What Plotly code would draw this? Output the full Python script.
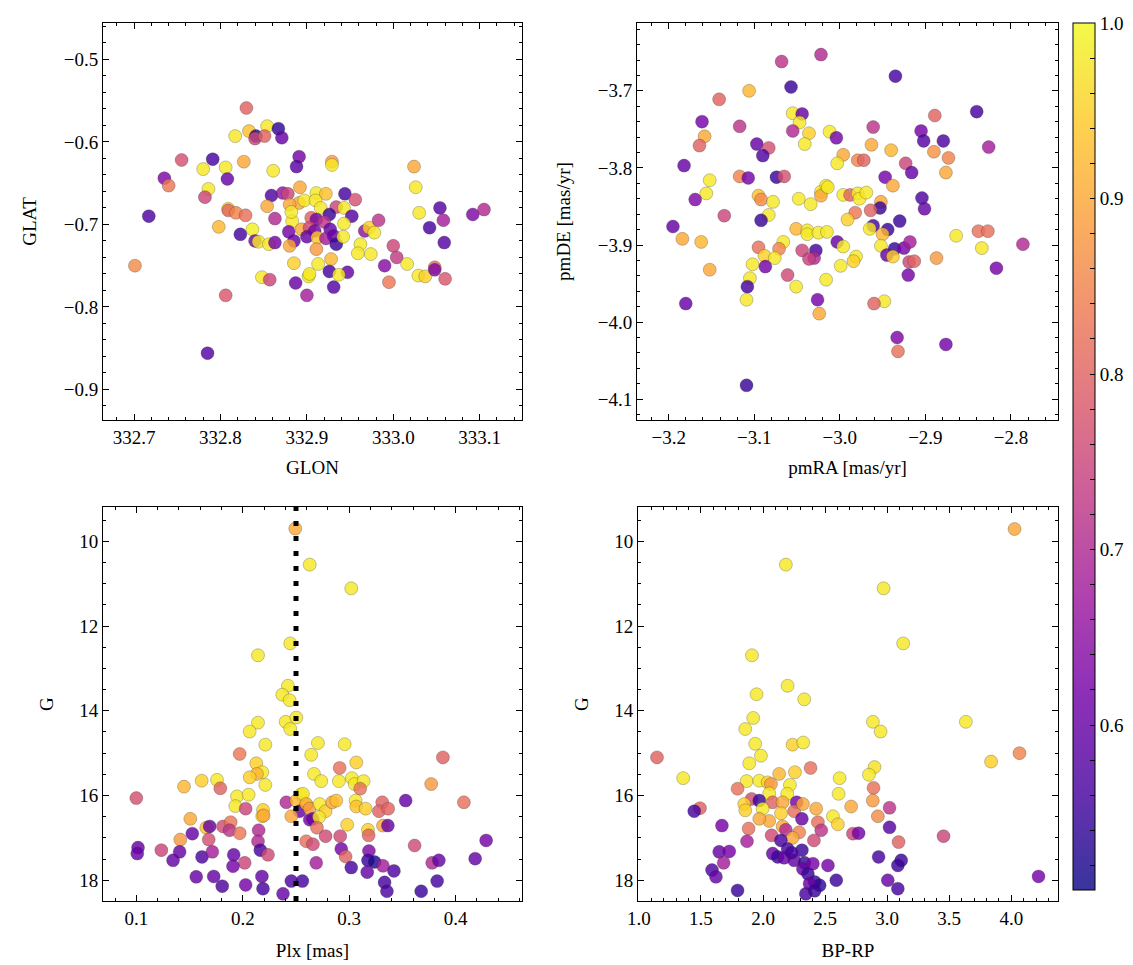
import plotly.graph_objects as go
import plotly.colors as pc

# ---------------- data ----------------
# Panel 1: sky positions
glon = [332.830, 332.817, 332.833, 332.854, 332.841, 332.840, 332.851, 332.867, 332.871, 332.755,
        332.791, 332.827, 332.780, 332.806, 332.861, 332.891, 332.888, 332.735, 332.740, 332.808,
        332.786, 332.782, 332.717, 332.809, 332.809, 332.818, 332.829, 332.798, 332.837, 332.823,
        332.840, 332.844, 332.856, 332.863, 332.859, 332.872, 332.878, 332.854, 332.863, 332.883,
        332.892, 332.879, 332.885, 332.880, 332.885, 332.701, 332.848, 332.857, 332.887, 332.900,
        332.806, 332.785, 332.902, 332.891, 332.897, 332.929, 332.929, 332.911, 332.922, 332.944,
        332.956, 332.880, 332.910, 332.916, 332.934, 332.943, 332.926, 332.952, 332.905, 332.911,
        332.920, 332.894, 332.903, 332.927, 332.943, 332.909, 332.967, 332.972, 332.978, 332.983,
        332.900, 332.912, 332.922, 332.931, 332.934, 332.942, 332.962, 332.911, 332.913, 332.928,
        332.959, 332.974, 332.903, 332.926, 332.947, 332.990, 332.937, 333.024, 333.026, 333.030,
        333.054, 333.058, 333.042, 333.059, 333.092, 333.105, 333.000, 333.004, 333.016, 332.995,
        333.029, 333.037, 333.048, 333.048, 333.060, 332.931, 332.882]
glat = [-0.559, -0.593, -0.587, -0.581, -0.593, -0.596, -0.593, -0.584, -0.595, -0.622,
        -0.621, -0.624, -0.633, -0.631, -0.635, -0.618, -0.630, -0.644, -0.653, -0.645,
        -0.657, -0.667, -0.690, -0.681, -0.683, -0.686, -0.689, -0.703, -0.706, -0.712,
        -0.720, -0.721, -0.724, -0.722, -0.665, -0.662, -0.663, -0.678, -0.693, -0.696,
        -0.655, -0.709, -0.720, -0.726, -0.747, -0.750, -0.764, -0.767, -0.771, -0.786,
        -0.786, -0.856, -0.763, -0.674, -0.671, -0.624, -0.628, -0.662, -0.663, -0.663,
        -0.670, -0.676, -0.671, -0.680, -0.679, -0.680, -0.688, -0.690, -0.692, -0.694,
        -0.697, -0.706, -0.704, -0.706, -0.699, -0.708, -0.708, -0.704, -0.710, -0.695,
        -0.715, -0.716, -0.717, -0.714, -0.724, -0.715, -0.724, -0.730, -0.748, -0.742,
        -0.735, -0.736, -0.760, -0.757, -0.758, -0.750, -0.761, -0.630, -0.655, -0.686,
        -0.680, -0.695, -0.704, -0.722, -0.688, -0.682, -0.726, -0.740, -0.748, -0.770,
        -0.762, -0.763, -0.752, -0.755, -0.766, -0.776, -0.685]
prob_sky = [0.80, 0.98, 0.93, 0.98, 0.52, 0.75, 0.80, 0.54, 0.60, 0.77,
            0.56, 0.90, 0.98, 0.98, 0.98, 0.62, 0.58, 0.63, 0.83, 0.60,
            0.98, 0.75, 0.57, 0.98, 0.80, 0.85, 0.82, 0.92, 0.99, 0.56,
            0.62, 0.98, 0.98, 0.62, 0.57, 0.66, 0.75, 0.90, 0.70, 0.98,
            0.90, 0.62, 0.60, 0.90, 0.95, 0.86, 0.98, 0.75, 0.60, 0.68,
            0.78, 0.58, 0.98, 0.90, 0.98, 0.88, 0.98, 0.98, 0.93, 0.56,
            0.77, 0.90, 0.98, 0.98, 0.75, 0.98, 0.55, 0.58, 0.80, 0.62,
            0.72, 0.90, 0.76, 0.60, 0.98, 0.62, 0.65, 0.95, 0.98, 0.72,
            0.60, 0.94, 0.68, 0.60, 0.55, 0.98, 0.98, 0.88, 0.98, 0.92,
            0.98, 0.98, 0.98, 0.56, 0.60, 0.64, 0.98, 0.90, 0.98, 0.98,
            0.58, 0.68, 0.56, 0.58, 0.63, 0.70, 0.75, 0.73, 0.98, 0.83,
            0.98, 0.95, 0.82, 0.63, 0.78, 0.58, 0.98]

# Panel 2: proper motions
pmra = [-3.068, -3.106, -3.057, -3.141, -3.055, -3.044, -3.047, -3.036, -3.055, -3.041,
        -3.161, -3.158, -3.164, -3.117, -3.097, -3.083, -3.090, -3.182, -3.117, -3.107,
        -3.074, -3.065, -3.152, -3.156, -3.169, -3.095, -3.092, -3.078, -3.083, -3.135,
        -3.092, -3.048, -3.034, -3.022, -3.022, -3.016, -3.195, -3.184, -3.162, -3.152,
        -3.051, -3.038, -3.038, -3.025, -3.066, -3.095, -3.071, -3.088, -3.076, -3.102,
        -3.087, -3.044, -3.028, -3.030, -3.036, -3.105, -3.108, -3.109, -3.061, -3.051,
        -3.016, -3.180, -3.026, -3.024, -3.109, -3.022,
        -2.935, -2.840, -2.889, -2.905, -2.902, -2.879, -2.826, -2.961, -3.012, -3.004,
        -2.963, -2.940, -2.996, -3.003, -2.979, -2.972, -2.890, -2.873, -2.876, -2.923,
        -2.916, -2.947, -2.938, -3.014, -2.996, -2.988, -2.979, -2.977, -2.969, -2.952,
        -2.953, -2.964, -2.982, -2.991, -2.904, -2.901, -2.930, -2.961, -2.965, -2.944,
        -2.950, -3.015, -2.864, -2.838, -2.827, -2.834, -2.786, -2.817, -3.003, -2.996,
        -2.952, -2.936, -2.925, -2.918, -2.945, -2.938, -2.919, -2.913, -2.920, -2.887,
        -2.981, -2.984, -2.999, -2.948, -2.960, -2.933, -2.932, -2.876]
pmde = [-3.662, -3.700, -3.695, -3.711, -3.729, -3.730, -3.741, -3.755, -3.752, -3.769,
        -3.740, -3.759, -3.771, -3.746, -3.769, -3.774, -3.784, -3.797, -3.811, -3.813,
        -3.812, -3.811, -3.816, -3.833, -3.841, -3.836, -3.841, -3.844, -3.861, -3.862,
        -3.868, -3.840, -3.847, -3.831, -3.836, -3.823, -3.876, -3.892, -3.896, -3.932,
        -3.879, -3.881, -3.886, -3.884, -3.896, -3.903, -3.905, -3.914, -3.917, -3.925,
        -3.928, -3.907, -3.907, -3.917, -3.918, -3.943, -3.954, -3.971, -3.939, -3.954,
        -3.945, -3.976, -3.971, -3.989, -4.082, -3.653,
        -3.681, -3.727, -3.732, -3.752, -3.765, -3.765, -3.773, -3.747, -3.753, -3.761,
        -3.770, -3.777, -3.783, -3.794, -3.790, -3.790, -3.779, -3.787, -3.806, -3.794,
        -3.806, -3.812, -3.823, -3.825, -3.835, -3.835, -3.833, -3.840, -3.832, -3.844,
        -3.852, -3.855, -3.858, -3.867, -3.839, -3.853, -3.869, -3.875, -3.879, -3.880,
        -3.886, -3.883, -3.888, -3.882, -3.882, -3.904, -3.899, -3.930, -3.896, -3.902,
        -3.901, -3.905, -3.904, -3.896, -3.913, -3.915, -3.922, -3.921, -3.939, -3.917,
        -3.915, -3.921, -3.927, -3.973, -3.976, -4.020, -4.038, -4.029]
prob_pm = [0.72, 0.92, 0.55, 0.80, 0.98, 0.60, 0.98, 0.95, 0.70, 0.98,
           0.62, 0.90, 0.80, 0.72, 0.60, 0.77, 0.57, 0.60, 0.85, 0.62,
           0.55, 0.77, 0.98, 0.98, 0.63, 0.93, 0.86, 0.98, 0.98, 0.75,
           0.55, 0.98, 0.98, 0.98, 0.90, 0.98, 0.60, 0.90, 0.92, 0.90,
           0.92, 0.98, 0.98, 0.98, 0.98, 0.82, 0.85, 0.95, 0.98, 0.98,
           0.62, 0.75, 0.56, 0.70, 0.74, 0.98, 0.56, 0.98, 0.76, 0.98,
           0.98, 0.60, 0.62, 0.90, 0.55, 0.70,
           0.56, 0.56, 0.80, 0.62, 0.58, 0.57, 0.68, 0.72, 0.98, 0.62,
           0.90, 0.92, 0.90, 0.98, 0.85, 0.80, 0.87, 0.85, 0.90, 0.75,
           0.60, 0.62, 0.90, 0.98, 0.98, 0.80, 0.98, 0.98, 0.98, 0.90,
           0.55, 0.80, 0.83, 0.95, 0.57, 0.60, 0.55, 0.56, 0.98, 0.55,
           0.92, 0.98, 0.98, 0.82, 0.82, 0.98, 0.70, 0.62, 0.60, 0.98,
           0.98, 0.55, 0.62, 0.68, 0.60, 0.95, 0.75, 0.80, 0.62, 0.88,
           0.98, 0.95, 0.98, 0.98, 0.80, 0.63, 0.82, 0.62]

# Panel 3: parallax vs G
plx = [0.2493, 0.2629, 0.2446, 0.2143, 0.2424, 0.2371, 0.2440, 0.2403, 0.2446, 0.2503,
       0.2143, 0.2065, 0.2212, 0.1971, 0.2127, 0.2183, 0.2133, 0.2065, 0.2212, 0.1448,
       0.1614, 0.1758, 0.1789, 0.1000, 0.1946, 0.2055, 0.1930, 0.2027, 0.2190, 0.2183,
       0.2196, 0.2409, 0.2544, 0.2503, 0.2597, 0.2534, 0.2456, 0.2629, 0.1507, 0.1657,
       0.1689, 0.1814, 0.1886, 0.1876, 0.1971, 0.2149, 0.1413, 0.1526, 0.1680, 0.2143,
       0.1016, 0.1009, 0.1235, 0.1407, 0.1345, 0.1617, 0.1714, 0.1915, 0.2165, 0.2237,
       0.2018, 0.1908, 0.1563, 0.1727, 0.1807, 0.2027, 0.2180, 0.2190, 0.2378, 0.2456,
       0.2560,
       0.3019, 0.2706, 0.2957, 0.2643, 0.3066, 0.2910, 0.3880, 0.2669, 0.2737, 0.2903,
       0.3025, 0.3051, 0.3135, 0.3103, 0.3770, 0.4077, 0.3530, 0.2565, 0.2596, 0.2628,
       0.2722, 0.2778, 0.2840, 0.2878, 0.3060, 0.3066, 0.3154, 0.3310, 0.3279, 0.3366,
       0.2659, 0.2716, 0.2697, 0.2778, 0.2981, 0.2915, 0.3176, 0.3182, 0.3317, 0.3363,
       0.2596, 0.2659, 0.2925, 0.2966, 0.3185, 0.2690, 0.3019, 0.3176, 0.3239, 0.3317,
       0.3169, 0.3420, 0.3332, 0.3354, 0.3614, 0.3779, 0.3842, 0.3826, 0.3676, 0.4183,
       0.4286]
g_plx = [9.70, 10.55, 12.41, 12.69, 13.41, 13.62, 13.75, 14.26, 14.43, 14.16,
         14.28, 14.49, 14.80, 15.02, 15.24, 15.45, 15.49, 15.57, 15.75, 15.79,
         15.65, 15.63, 15.83, 16.06, 16.02, 15.98, 16.25, 16.31, 16.34, 16.49,
         16.47, 16.16, 15.98, 16.12, 16.22, 16.37, 16.49, 16.57, 16.55, 16.76,
         16.73, 16.73, 16.63, 16.82, 16.89, 16.82, 17.04, 16.90, 17.04, 17.08,
         17.23, 17.37, 17.29, 17.33, 17.53, 17.45, 17.33, 17.40, 17.29, 17.40,
         17.59, 17.67, 17.92, 17.91, 18.14, 18.11, 17.91, 18.20, 18.32, 18.02,
         18.02,
         11.11, 14.76, 14.79, 15.04, 15.22, 15.35, 15.10, 15.49, 15.66, 15.66,
         15.59, 15.73, 15.66, 15.84, 15.73, 16.16, 16.12, 15.96, 16.20, 16.31,
         16.20, 16.37, 16.16, 16.12, 16.12, 16.26, 16.31, 16.16, 16.37, 16.31,
         16.55, 16.51, 16.76, 16.96, 16.69, 16.96, 16.81, 16.94, 16.71, 16.71,
         17.08, 17.15, 17.26, 17.44, 17.31, 17.59, 17.70, 17.53, 17.57, 17.66,
         17.81, 17.78, 18.05, 18.26, 17.18, 17.59, 17.53, 18.02, 18.26, 17.49,
         17.06]
prob_plx = [0.90, 0.98, 0.98, 0.98, 0.98, 0.98, 0.98, 0.98, 0.98, 0.98,
            0.98, 0.98, 0.98, 0.83, 0.95, 0.98, 0.92, 0.95, 0.98, 0.92,
            0.95, 0.98, 0.80, 0.77, 0.98, 0.98, 0.98, 0.75, 0.95, 0.95,
            0.90, 0.70, 0.98, 0.92, 0.90, 0.60, 0.90, 0.62, 0.90, 0.93,
            0.60, 0.76, 0.83, 0.72, 0.83, 0.70, 0.88, 0.60, 0.77, 0.70,
            0.60, 0.60, 0.75, 0.60, 0.60, 0.57, 0.68, 0.60, 0.56, 0.76,
            0.75, 0.62, 0.60, 0.60, 0.57, 0.62, 0.60, 0.56, 0.60, 0.57,
            0.56,
            0.98, 0.98, 0.98, 0.98, 0.95, 0.82, 0.80, 0.98, 0.98, 0.98,
            0.98, 0.98, 0.98, 0.82, 0.88, 0.82, 0.60, 0.98, 0.92, 0.88,
            0.98, 0.95, 0.90, 0.93, 0.98, 0.93, 0.95, 0.80, 0.80, 0.80,
            0.60, 0.98, 0.82, 0.76, 0.95, 0.76, 0.95, 0.80, 0.90, 0.60,
            0.82, 0.76, 0.62, 0.80, 0.63, 0.68, 0.56, 0.55, 0.52, 0.68,
            0.60, 0.57, 0.56, 0.57, 0.76, 0.70, 0.60, 0.56, 0.55, 0.60,
            0.62]
plx_line = 0.25

# Panel 4: colour-magnitude diagram
bp_rp = [2.184, 1.911, 2.198, 1.948, 2.332, 1.921, 1.857, 1.937, 2.238, 2.324,
         1.983, 1.146, 1.889, 2.257, 2.130, 1.357, 1.868, 1.970, 2.037, 2.064,
         2.217, 1.795, 2.195, 2.050, 1.908, 1.970, 1.849, 2.078, 2.158, 2.271,
         1.492, 1.446, 1.857, 1.997, 2.145, 2.251, 2.050, 1.970, 2.313, 1.669,
         2.158, 1.884, 2.184, 2.291, 2.069, 2.238, 1.871, 2.144, 1.647, 1.728,
         1.683, 2.078, 2.118, 2.198, 2.251, 2.313, 1.589, 1.621, 1.795, 2.345,
         2.383, 2.617, 2.898, 2.853, 2.609, 2.890, 2.884, 2.710, 2.925, 3.019,
         2.563, 2.603, 2.428, 2.442, 2.469, 2.410, 2.321, 2.170, 2.230, 2.335,
         2.321, 2.402, 2.362, 2.523, 2.416, 2.456, 2.375, 2.416, 2.590, 3.019,
         3.092, 2.931, 3.086, 3.113, 3.005, 3.086, 2.724, 2.770,
         4.026, 2.971, 3.129, 2.885, 2.947, 3.634, 4.066, 3.837, 3.454, 4.219]
g_cmd = [10.55, 12.69, 13.41, 13.61, 13.73, 14.17, 14.43, 14.78, 14.80, 14.75,
         15.06, 15.10, 15.24, 15.45, 15.49, 15.59, 15.66, 15.65, 15.69, 15.73,
         15.75, 15.84, 15.96, 15.95, 16.08, 16.12, 16.20, 16.16, 16.16, 16.16,
         16.30, 16.37, 16.35, 16.31, 16.42, 16.37, 16.60, 16.55, 16.55, 16.71,
         16.73, 16.78, 16.81, 16.87, 16.94, 17.00, 17.08, 17.06, 17.33, 17.32,
         17.59, 17.37, 17.45, 17.26, 17.53, 17.29, 17.76, 17.92, 18.24, 18.32,
         15.35, 15.59, 15.33, 15.51, 15.96, 15.82, 16.12, 16.26, 16.49, 16.29,
         16.49, 16.68, 16.31, 16.63, 16.82, 17.06, 16.20, 17.47, 17.35, 17.59,
         17.73, 17.61, 17.85, 17.65, 18.04, 18.12, 18.08, 18.25, 18.00, 16.75,
         17.10, 17.45, 17.65, 17.53, 18.00, 18.20, 16.90, 16.89,
         9.71, 11.11, 12.41, 14.26, 14.49, 14.26, 15.00, 15.20, 16.96, 17.91]
prob_cmd = [0.98, 0.98, 0.98, 0.98, 0.98, 0.98, 0.98, 0.98, 0.95, 0.98,
            0.98, 0.80, 0.98, 0.95, 0.92, 0.98, 0.98, 0.98, 0.95, 0.88,
            0.98, 0.82, 0.98, 0.98, 0.76, 0.55, 0.95, 0.80, 0.90, 0.62,
            0.80, 0.56, 0.95, 0.98, 0.95, 0.82, 0.90, 0.90, 0.60, 0.62,
            0.90, 0.82, 0.70, 0.85, 0.76, 0.90, 0.68, 0.56, 0.60, 0.62,
            0.68, 0.60, 0.55, 0.56, 0.60, 0.55, 0.57, 0.60, 0.55, 0.56,
            0.82, 0.98, 0.97, 0.98, 0.98, 0.82, 0.88, 0.90, 0.86, 0.72,
            0.98, 0.95, 0.90, 0.82, 0.72, 0.76, 0.90, 0.60, 0.56, 0.55,
            0.60, 0.62, 0.55, 0.62, 0.55, 0.54, 0.60, 0.55, 0.55, 0.58,
            0.80, 0.56, 0.55, 0.55, 0.60, 0.56, 0.75, 0.62,
            0.90, 0.98, 0.98, 0.98, 0.98, 0.98, 0.85, 0.95, 0.75, 0.62]

prob_min, prob_max = 0.506, 1.0
cbar_ticks = [0.6, 0.7, 0.8, 0.9, 1.0]

# ---------------- styling ----------------
W, H = 1133, 965
FONT = "Liberation Serif"
FS = 19


def dom_x(a, b):
    return [a / W, b / W]


def dom_y(top, bottom):
    return [1 - bottom / H, 1 - top / H]


def rgba(hexcol, a):
    r, g, b = pc.hex_to_rgb(hexcol)
    return f"rgba({r},{g},{b},{a})"


plasma = pc.sequential.Plasma
n = len(plasma)
cscale = [[i / (n - 1), rgba(c, 0.82)] for i, c in enumerate(plasma)]

# colorbar ticks: majors every 0.1 (labelled), minors every 0.02
cb_vals = [round(0.52 + 0.02 * i, 2) for i in range(25)]
cb_text = [f"{v:.1f}" if any(abs(v - t) < 1e-9 for t in cbar_ticks) else "" for v in cb_vals]

fig = go.Figure()

panels = [
    (glon, glat, prob_sky, "x", "y"),
    (pmra, pmde, prob_pm, "x2", "y2"),
    (plx, g_plx, prob_plx, "x3", "y3"),
    (bp_rp, g_cmd, prob_cmd, "x4", "y4"),
]
for i, (xs, ys, cs, xa, ya) in enumerate(panels):
    fig.add_trace(go.Scatter(
        x=xs, y=ys, mode="markers", xaxis=xa, yaxis=ya, showlegend=False,
        marker=dict(
            size=13, color=cs, colorscale=cscale, cmin=prob_min, cmax=prob_max,
            line=dict(width=0.6, color="rgba(40,40,40,0.45)"),
            showscale=(i == 0),
            colorbar=dict(
                x=1065 / W, xanchor="left", xpad=0, ypad=0,
                y=1 - 15 / H, yanchor="top", len=(882 - 15) / H, lenmode="fraction",
                thickness=22, thicknessmode="pixels",
                outlinewidth=1, outlinecolor="black",
                ticks="inside", ticklen=5, tickwidth=1, tickcolor="black",
                tickvals=cb_vals, ticktext=cb_text,
                tickfont=dict(family=FONT, size=FS, color="black"),
            ),
        ),
    ))

# dotted vertical line in the parallax panel
fig.add_shape(type="line", xref="x3", yref="y3 domain", x0=plx_line, x1=plx_line, y0=0, y1=1,
              line=dict(color="black", width=5, dash="5px,10px"), layer="above")


def axis(domain, rng, dtick, minor, title, anchor, fmt, standoff):
    return dict(
        domain=domain, range=rng, dtick=dtick, tick0=0, anchor=anchor, automargin=False,
        showline=True, linecolor="black", linewidth=1, mirror="ticks",
        ticks="inside", ticklen=6, tickwidth=1, tickcolor="black",
        minor=dict(dtick=minor, ticks="inside", ticklen=3, tickwidth=1, tickcolor="black"),
        showgrid=False, zeroline=False, tickformat=fmt,
        tickfont=dict(family=FONT, size=FS, color="black"),
        title=dict(text=title, font=dict(family=FONT, size=FS, color="black"), standoff=standoff),
    )


XL = dom_x(95, 514)
XR = dom_x(629, 1050)
YT = dom_y(15, 412)
YB = dom_y(499, 893)

fig.update_layout(
    width=W, height=H,
    margin=dict(l=0, r=0, t=0, b=0, autoexpand=False),
    paper_bgcolor="white", plot_bgcolor="white",
    font=dict(family=FONT, size=FS, color="black"),
    xaxis=axis(XL, [332.664, 333.149], 0.1, 0.02, "GLON", "y", ".1f", 13),
    yaxis=axis(YT, [-0.937, -0.456], 0.1, 0.02, "GLAT", "x", ".1f", 22),
    xaxis2=axis(XR, [-3.237, -2.745], 0.1, 0.02, "pmRA [mas/yr]", "y2", ".1f", 13),
    yaxis2=axis(YT, [-4.127, -3.612], 0.1, 0.02, "pmDE [mas/yr]", "x2", ".1f", 22),
    xaxis3=axis(XL, [0.0687, 0.4623], 0.1, 0.02, "Plx [mas]", "y3", ".1f", 15),
    yaxis3=axis(YB, [18.49, 9.19], 2, 0.5, "G", "x3", "d", 20),
    xaxis4=axis(dom_x(630, 1050), [0.993, 4.376], 0.5, 0.1, "BP-RP", "y4", ".1f", 15),
    yaxis4=axis(YB, [18.49, 9.19], 2, 0.5, "G", "x4", "d", 20),
)

fig.write_html("out.html")
